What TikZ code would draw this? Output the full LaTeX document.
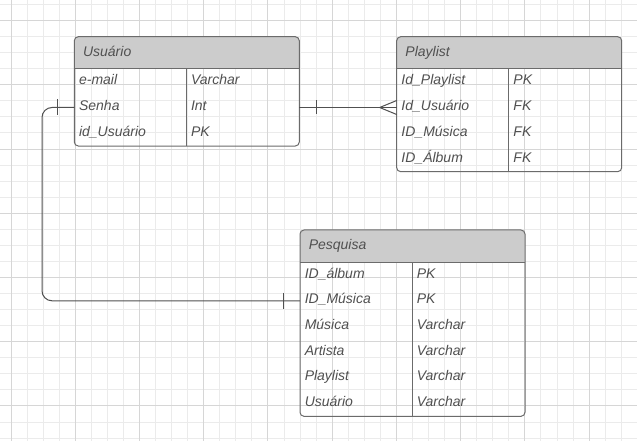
\documentclass[tikz,border=0pt]{standalone}
\usepackage{fontspec}
\setmainfont{Liberation Sans}
\usetikzlibrary{calc}
\definecolor{gridminor}{HTML}{EBEBEB}
\definecolor{gridmajor}{HTML}{D6D6D6}
\definecolor{boxline}{HTML}{6B6B6B}
\definecolor{hdrfill}{HTML}{CCCCCC}
\definecolor{txt}{HTML}{505050}
\definecolor{conn}{HTML}{505050}
\newcommand\erent[6]{%
  \pgfmathsetmacro\enthgt{32.3+#4*25.67}%
  \pgfmathsetmacro\enthgtpt{\enthgt*0.75}%
  \fill[hdrfill] (#2,#3+32.3) {[rounded corners=3pt] -- (#2,#3) -- (#2+225,#3)} -- (#2+225,#3+32.3) -- cycle;
  \node[entbox, minimum height=\enthgtpt pt] (#1) at (#2,#3) {};
  \draw[boxln] (#2,#3+32.3) -- (#2+225,#3+32.3);
  \draw[boxln] (#2+112,#3+32.3) -- (#2+112,#3+\enthgt);
  \node[lbl] (#1-t) at (#2+8.5,#3+20) {#5};
  \foreach \a/\b [count=\i] in {#6} {
    \node[rowbox] (#1-\i) at (#2,{#3+32.3+(\i-1)*25.67}) {};
    \node[lbl] (#1-\i a) at ($(#1-\i.north west)+(4.5,16)$) {\a};
    \node[lbl] (#1-\i b) at ($(#1-\i.north west)+(116.5,16)$) {\b};
  }
}
\begin{document}
\begin{tikzpicture}[x=0.75pt,y=-0.75pt,
  lbl/.style={anchor=base west, inner sep=0pt, text=txt, font=\fontsize{10.5}{12}\selectfont\itshape},
  rowbox/.style={draw=none, inner sep=0pt, outer sep=0pt, minimum width=168.75pt, minimum height=19.25pt, anchor=north west},
  entbox/.style={draw=boxline, line width=0.75pt, rounded corners=3pt, inner sep=0pt, outer sep=0pt, minimum width=168.75pt, anchor=north west},
  boxln/.style={draw=boxline, line width=0.75pt},
  conn/.style={draw=conn, line width=0.75pt},
  gmin/.style={draw=gridminor, line width=0.75pt},
  gmaj/.style={draw=gridmajor, line width=0.75pt}]
\useasboundingbox (0,0) rectangle (637,441);
\fill[white] (0,0) rectangle (637,441);
% grid
\foreach \k in {0,...,39} \draw[gmin] ({11+16.06*\k},0) -- ({11+16.06*\k},441);
\foreach \k in {0,...,27} \draw[gmin] (0,{4.5+16.06*\k}) -- (637,{4.5+16.06*\k});
\foreach \k in {0,4,...,36} \draw[gmaj] ({11+16.06*\k},0) -- ({11+16.06*\k},441);
\foreach \k in {1,5,...,25} \draw[gmaj] (0,{4.5+16.06*\k}) -- (637,{4.5+16.06*\k});
% entities
\erent{U}{74.3}{36.7}{3}{Usuário}{e-mail/Varchar, Senha/Int, id\_Usuário/PK}
\erent{P}{396.7}{36.7}{4}{Playlist}{Id\_Playlist/PK, Id\_Usuário/FK, ID\_Música/FK, ID\_Álbum/FK}
\erent{S}{300}{230}{6}{Pesquisa}{ID\_álbum/PK, ID\_Música/PK, Música/Varchar, Artista/Varchar, Playlist/Varchar, Usuário/Varchar}
% connector Usuario -- Playlist
\draw[conn] (U-2.east) -- (P-2.west);
\draw[conn] ($(U-2.east)+(17,-7)$) -- ($(U-2.east)+(17,7)$);
\draw[conn] ($(P-2.west)+(-17,0)$) -- ($(P-2.west)+(0,-7)$);
\draw[conn] ($(P-2.west)+(-17,0)$) -- ($(P-2.west)+(0,7)$);
% connector Usuario -- Pesquisa
\coordinate (bend) at (42,200);
\draw[conn, rounded corners=7.5pt] (U-2.west) -- (U-2.west -| bend) -- (bend |- S-2.west) -- (S-2.west);
\draw[conn] ($(U-2.west)+(-17,-8)$) -- ($(U-2.west)+(-17,8)$);
\draw[conn] ($(S-2.west)+(-17,-8)$) -- ($(S-2.west)+(-17,8)$);
\end{tikzpicture}
\end{document}
